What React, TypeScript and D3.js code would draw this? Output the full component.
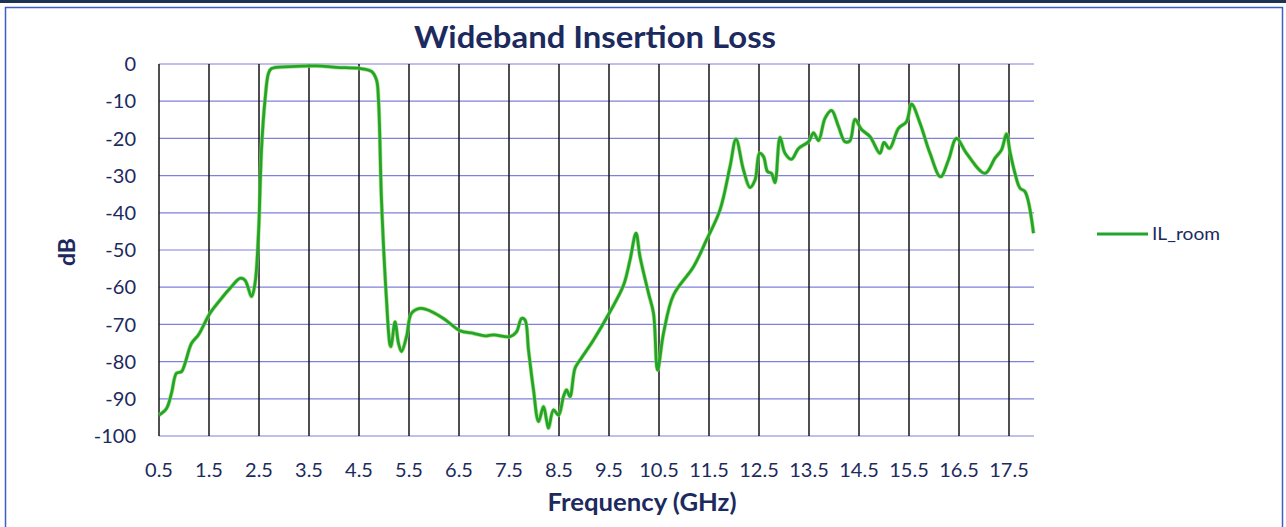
import React from "react";
import * as d3 from "d3";

const freqGHz = [
  0.5, 0.65, 0.75, 0.85, 0.95, 1.02, 1.15, 1.29, 1.52, 1.75, 1.92, 2.12, 2.22, 2.35, 2.42, 2.49, 2.55, 2.62, 2.69, 2.75,
  3.12, 3.65, 4.05, 4.52, 4.75, 4.85, 4.89, 4.95, 5.05, 5.12, 5.14, 5.22, 5.29, 5.35, 5.45, 5.55, 5.72, 5.85, 6.19, 6.52,
  6.79, 7.02, 7.19, 7.52, 7.65, 7.75, 7.82, 7.89, 7.99, 8.09, 8.19, 8.25, 8.29, 8.39, 8.49, 8.59, 8.65, 8.72, 8.82, 8.92,
  9.19, 9.52, 9.79, 9.92, 10.04, 10.12, 10.29, 10.39, 10.47, 10.59, 10.79, 11.19, 11.45, 11.72, 11.92, 12.04, 12.19, 12.32, 12.42, 12.51,
  12.59, 12.67, 12.75, 12.82, 12.92, 13.02, 13.15, 13.29, 13.49, 13.59, 13.69, 13.82, 13.95, 14.09, 14.22, 14.32, 14.42, 14.55, 14.72, 14.92,
  15.0, 15.11, 15.29, 15.45, 15.55, 15.72, 15.92, 16.13, 16.29, 16.45, 16.65, 17.02, 17.22, 17.35, 17.45, 17.52, 17.62, 17.72, 17.82, 17.99,
];

const ilRoom = [
  -94.4, -92.6, -88.5, -83.1, -82.7, -80.5, -75.1, -72.8, -67, -63, -60.3, -57.6, -58.1, -62.5, -59, -45.5, -23, -9.7, -2.5, -1.2,
  -0.7, -0.5, -0.9, -1.2, -2, -4.3, -9.7, -36.6, -63.4, -75.5, -76, -69.3, -75.1, -77.3, -73.3, -67, -65.7, -66, -68.4, -71.7,
  -72.4, -73.1, -72.8, -73.3, -72, -68.4, -68.8, -76.9, -87.6, -96.1, -92.1, -95.7, -97.9, -93, -94.4, -89.4, -87.6, -89.4, -81.8, -79.6,
  -74.2, -66.6, -59.5, -52.7, -45.5, -51.8, -61.6, -67, -82.3, -72.4, -62.1, -54.5, -47.3, -39.2, -27.6, -20.2, -28.5, -33.2, -31.2, -24,
  -24.9, -28.9, -29.4, -31.9, -19.7, -24, -25.6, -22.7, -20.9, -18.5, -20.6, -14.6, -12.5, -16.8, -20.9, -20.6, -14.9, -17.6, -19.5, -24,
  -21.1, -22.7, -17.3, -15.5, -10.8, -15.9, -24, -30.3, -25.8, -20, -24, -29.4, -25.3, -23.1, -18.8, -23.6, -29.4, -33.4, -34.3, -45.5,
];

const xTickValues = [0.5, 1.5, 2.5, 3.5, 4.5, 5.5, 6.5, 7.5, 8.5, 9.5, 10.5, 11.5, 12.5, 13.5, 14.5, 15.5, 16.5, 17.5];
const yTickValues = [0, -10, -20, -30, -40, -50, -60, -70, -80, -90, -100];
const seriesName = "IL_room";
const chartTitle = "Wideband Insertion Loss";
const xTitle = "Frequency (GHz)";
const yTitle = "dB";

const W = 1286;
const H = 527;
const FONT = "Lato, 'Open Sans', sans-serif";
const TEXT = "#1c2a5e";
const LINE = "#22a52c";

export default function App() {
  const x = d3.scaleLinear().domain([0.5, 18]).range([159, 1034]);
  const y = d3.scaleLinear().domain([-100, 0]).range([436, 64]);
  const pts = freqGHz.map((f, i) => [f, ilRoom[i]] as [number, number]);
  const line = d3
    .line<[number, number]>()
    .x((d) => x(d[0]))
    .y((d) => y(d[1]))
    .curve(d3.curveCatmullRom.alpha(0.5));
  const path = line(pts) || "";

  return (
    <svg width={W} height={H} style={{ position: "absolute", left: 0, top: 0, background: "#fff" }} fontFamily={FONT}>
      <rect x={0} y={0} width={W} height={3} fill="#1d3352" />
      <rect x={5.5} y={7.5} width={1277} height={540} fill="#fff" stroke="#3d5ec4" strokeWidth={1.5} />

      {/* horizontal grid */}
      {yTickValues.map((v) => (
        <line key={"h" + v} x1={x(0.5)} x2={x(18)} y1={y(v)} y2={y(v)} stroke="#7f80da" strokeWidth={1.2} />
      ))}
      {/* vertical grid */}
      {xTickValues.map((v) => (
        <line key={"v" + v} x1={x(v)} x2={x(v)} y1={y(0)} y2={y(-100)} stroke="#151515" strokeWidth={1.5} />
      ))}

      <path d={path} fill="none" stroke="#9ad85a" strokeWidth={4.2} strokeLinejoin="round" opacity={0.7} />
      <path d={path} fill="none" stroke={LINE} strokeWidth={2.8} strokeLinejoin="round" />

      {yTickValues.map((v) => (
        <text key={"yl" + v} x={136} y={y(v)} dy="0.36em" textAnchor="end" fontSize={20} fill={TEXT}>
          {String(v)}
        </text>
      ))}
      {xTickValues.map((v) => (
        <text key={"xl" + v} x={x(v)} y={477} textAnchor="middle" fontSize={20} fill={TEXT}>
          {v.toFixed(1)}
        </text>
      ))}

      <text x={595} y={48} textAnchor="middle" fontSize={31} fontWeight="bold" fill={TEXT} textLength={362} lengthAdjust="spacingAndGlyphs">
        {chartTitle}
      </text>
      <text x={642} y={511} textAnchor="middle" fontSize={24} fontWeight="bold" fill={TEXT} textLength={189} lengthAdjust="spacingAndGlyphs">
        {xTitle}
      </text>
      <text transform="translate(75,252) rotate(-90)" textAnchor="middle" fontSize={23} fontWeight="bold" fill={TEXT}>
        {yTitle}
      </text>

      <line x1={1097} x2={1148} y1={234} y2={234} stroke={LINE} strokeWidth={3} />
      <text x={1152} y={234} dy="0.36em" fontSize={18} fill={TEXT} textLength={68} lengthAdjust="spacingAndGlyphs">
        {seriesName}
      </text>
    </svg>
  );
}
